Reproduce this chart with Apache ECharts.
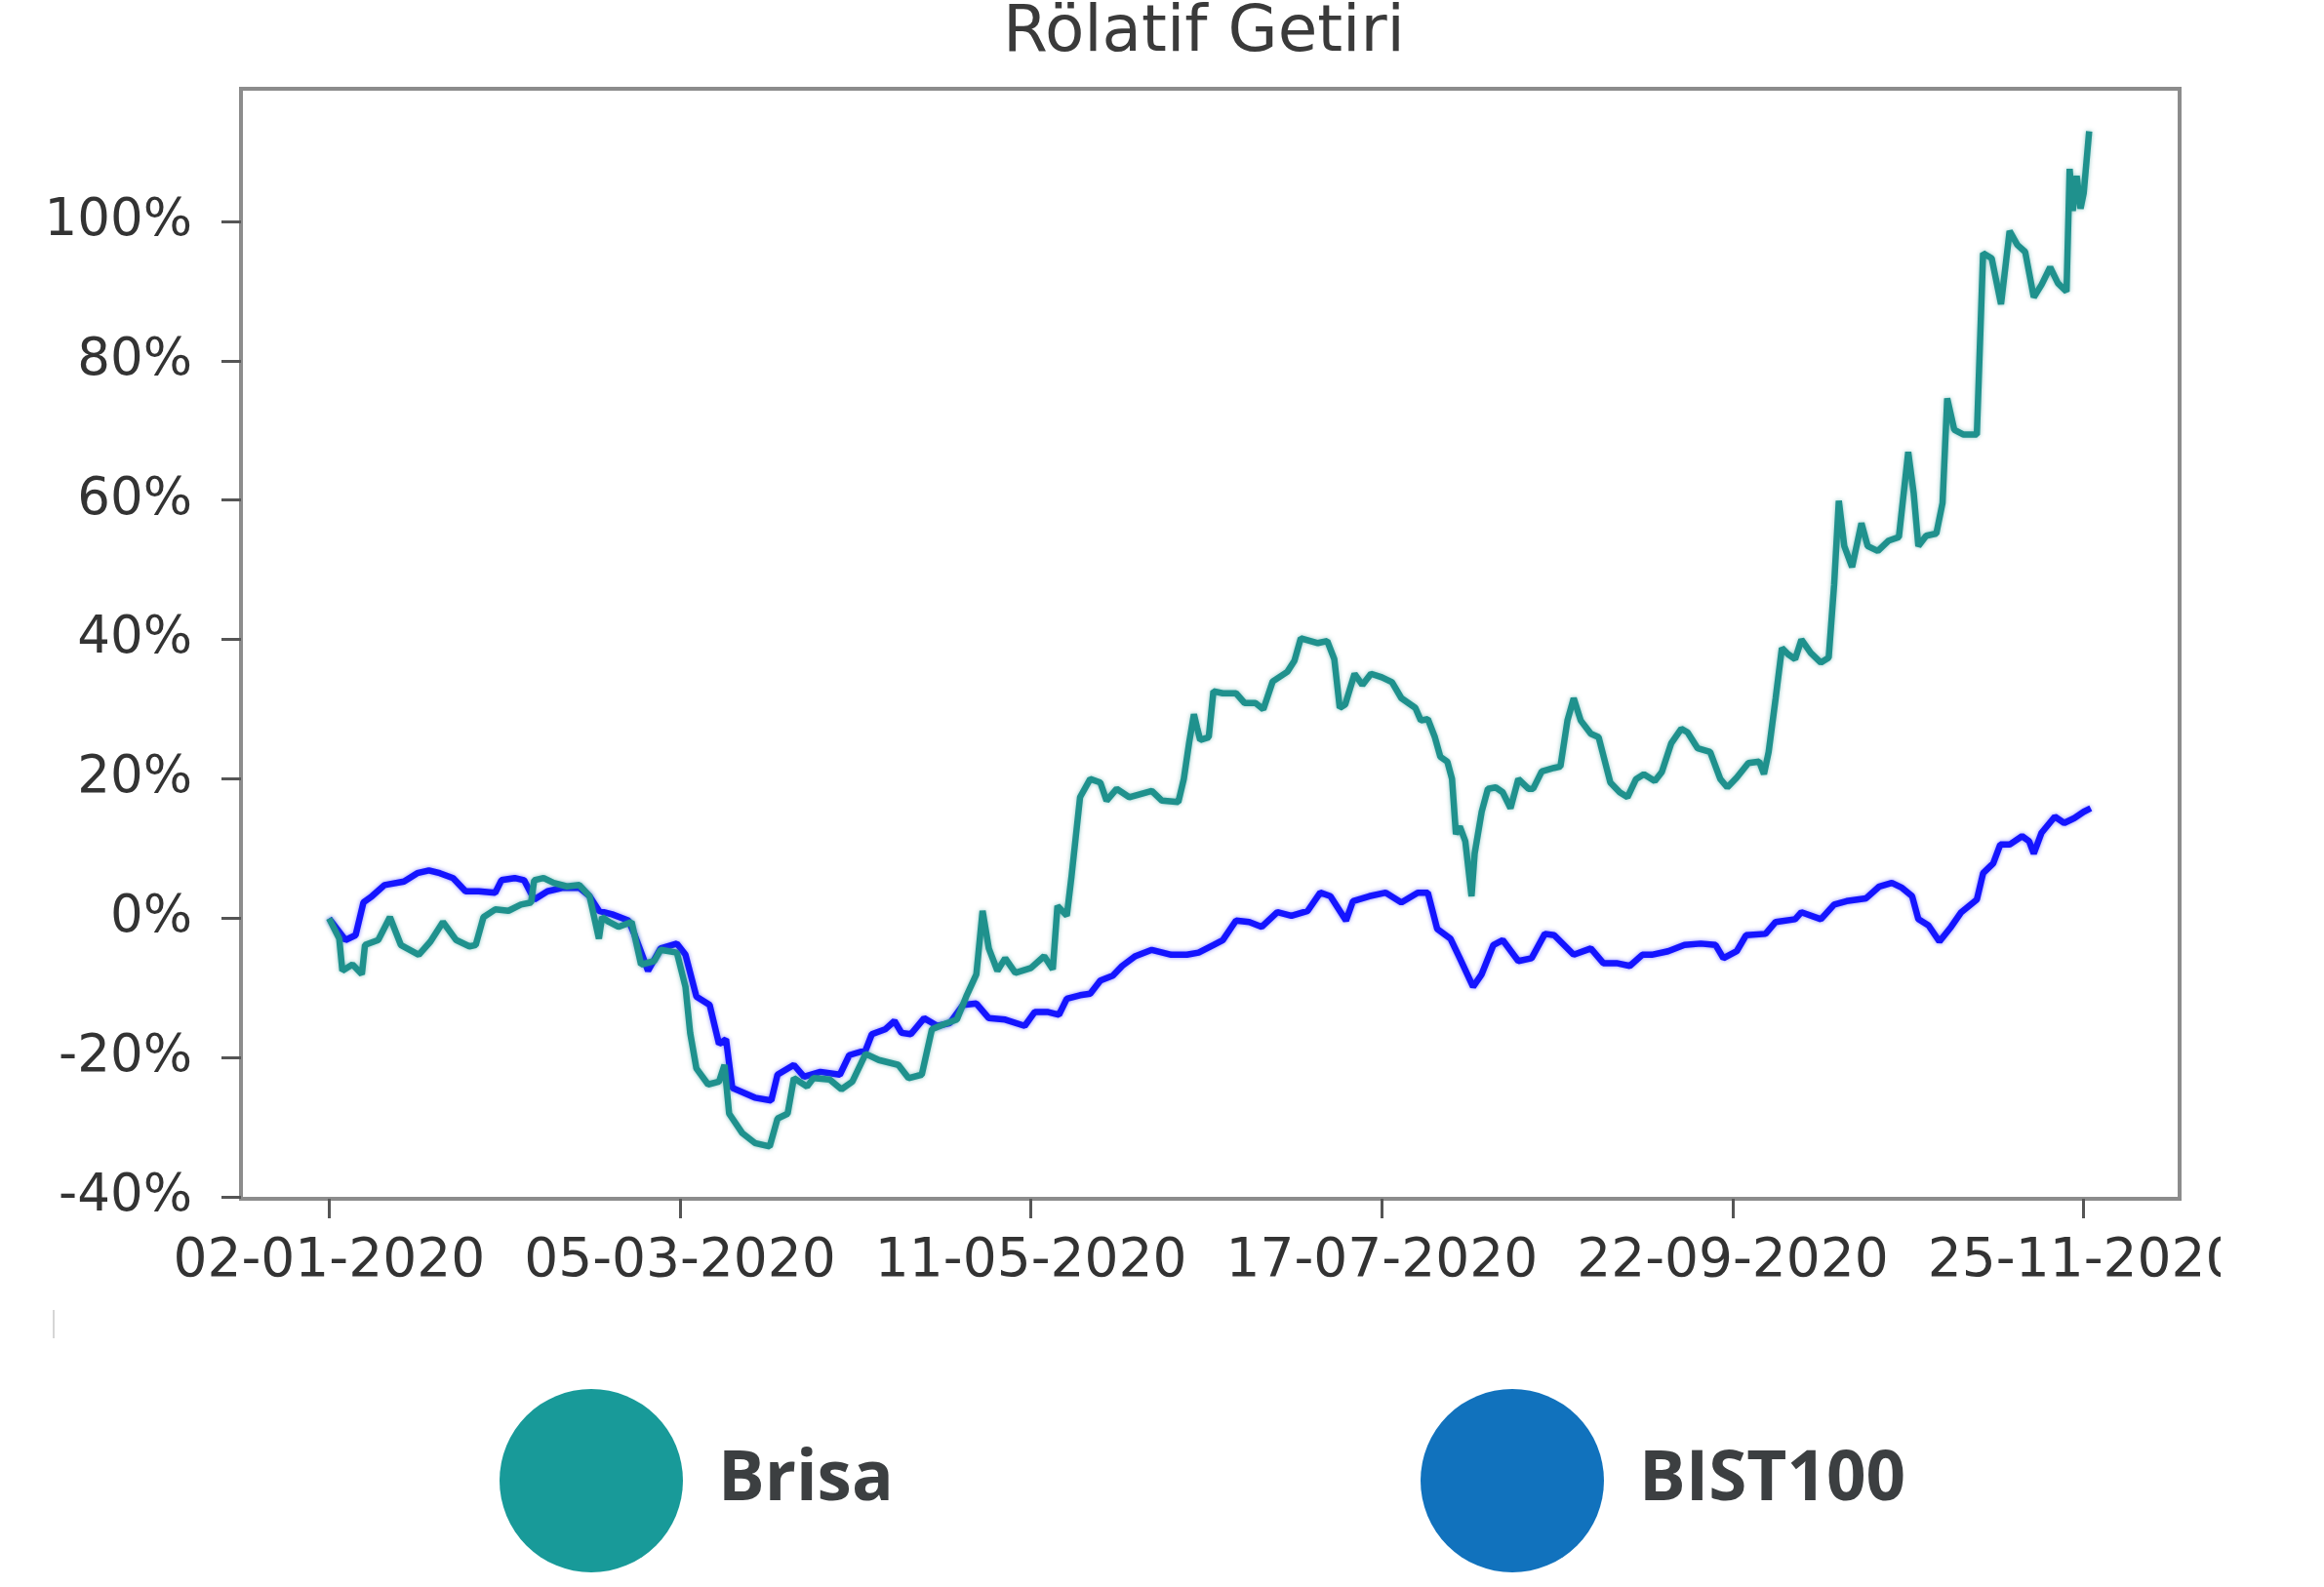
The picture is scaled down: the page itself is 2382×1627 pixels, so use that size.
<!DOCTYPE html>
<html>
<head>
<meta charset="utf-8">
<script src="https://cdn.jsdelivr.net/npm/echarts@6/dist/echarts.min.js"></script>
<style>
html,body{margin:0;padding:0;background:#fff;}
#chart{width:2382px;height:1627px;}
</style>
</head>
<body>
<div id="chart"></div>
<script>
// Trading-day index of each x tick and its label
const xTickIndex = [0, 45, 90, 135, 180, 225];
const xTickLabels = ['02-01-2020', '05-03-2020', '11-05-2020', '17-07-2020', '22-09-2020', '25-11-2020'];
const yTickValues = [-40, -20, 0, 20, 40, 60, 80, 100];

// Brisa relative return (%), [trading-day index, value]
const brisa = [
  [0,0],[1.3,-2.9],[1.7,-7.5],[3.0,-6.6],[4.2,-8.0],[4.6,-3.8],[6.3,-3.1],[7.8,0.2],[9.2,-3.8],[11.5,-5.2],
  [13.0,-3.3],[14.6,-0.5],[16.3,-3.1],[18.0,-4.0],[18.8,-3.8],[19.8,0.2],[21.3,1.3],[23.0,1.1],[24.6,2.0],[25.9,2.3],
  [26.3,5.5],[27.5,5.8],[28.8,5.1],[30.5,4.6],[32.1,4.8],[33.4,3.2],[34.6,-2.9],[35.0,0.2],[35.9,-0.5],[37.1,-1.2],
  [38.8,-0.5],[40.0,-6.6],[41.7,-6.1],[42.5,-4.5],[44.6,-4.9],[45.7,-9.8],[46.3,-16.4],[47.1,-21.5],[48.6,-23.8],[50.0,-23.4],
  [50.7,-21.0],[51.3,-28.0],[53.0,-30.8],[54.6,-32.2],[56.5,-32.7],[57.5,-28.7],[58.8,-28.0],[59.6,-22.9],[61.3,-24.1],[62.1,-22.9],
  [64.2,-23.1],[65.7,-24.5],[67.1,-23.4],[68.8,-19.4],[70.5,-20.3],[73.0,-21.0],[74.3,-22.9],[76.0,-22.4],[77.3,-15.9],[78.8,-15.2],
  [80.5,-14.5],[81.7,-11.2],[83.0,-8.0],[83.8,1.1],[84.6,-4.3],[85.7,-7.5],[86.7,-5.7],[88.0,-7.8],[90.0,-7.1],[91.7,-5.4],
  [92.8,-7.3],[93.4,1.8],[94.6,0.4],[95.2,6.0],[96.3,17.4],[97.6,20.0],[98.9,19.5],[99.7,16.9],[101.0,18.6],[102.6,17.4],
  [105.5,18.3],[106.8,16.9],[108.9,16.7],[109.6,20.0],[110.3,25.3],[110.9,29.3],[111.3,27.4],[111.7,25.6],[112.8,26.0],[113.4,32.6],
  [114.6,32.3],[116.3,32.3],[117.4,30.9],[118.8,30.9],[119.8,30.0],[121.0,34.0],[122.9,35.4],[123.8,37.0],[124.6,40.2],[126.8,39.5],
  [128.0,39.8],[128.9,37.2],[129.6,30.2],[130.3,30.7],[131.5,35.1],[132.5,33.5],[133.6,35.1],[135.0,34.6],[136.3,33.9],[137.5,31.6],
  [139.3,30.2],[140.0,28.4],[140.9,28.6],[141.8,26.0],[142.5,23.2],[143.4,22.5],[144.0,20.0],[144.5,12.1],[145.0,13.2],[145.7,11.1],
  [146.5,3.2],[146.9,9.3],[147.8,15.3],[148.6,18.6],[149.6,18.8],[150.5,18.1],[151.5,15.8],[152.5,20.0],[153.8,18.6],[154.4,18.6],
  [155.5,21.1],[157.1,21.6],[157.9,21.8],[158.8,28.4],[159.6,31.6],[160.5,28.4],[161.8,26.5],[162.8,26.0],[164.3,19.5],[165.5,18.1],
  [166.5,17.4],[167.6,20.0],[168.6,20.7],[170.0,19.7],[170.9,21.0],[172.1,25.1],[173.4,27.2],[174.2,26.7],[175.5,24.4],[177.1,23.9],
  [178.4,20.0],[179.3,18.8],[180.5,20.2],[182.0,22.3],[183.4,22.5],[184.0,20.7],[184.6,23.9],[185.5,31.6],[186.3,38.8],[187.1,37.9],
  [188.0,37.2],[188.8,40.0],[190.0,38.1],[191.3,36.7],[192.3,37.4],[193.0,47.9],[193.6,59.9],[194.3,53.4],[195.3,50.4],[196.5,56.7],
  [197.3,53.4],[198.6,52.7],[200.0,54.2],[201.3,54.7],[202.5,66.9],[203.2,61.0],[203.8,53.4],[204.8,54.9],[206.1,55.2],[206.9,59.6],
  [207.5,74.6],[208.4,70.1],[209.6,69.4],[211.3,69.4],[212.1,95.4],[213.2,94.7],[214.4,88.1],[215.5,98.6],[216.5,96.6],[217.5,95.6],
  [218.6,89.1],[219.6,90.9],[220.7,93.4],[221.7,91.1],[222.8,89.9],[223.2,107.5],[223.6,101.5],[224.1,106.5],[224.6,101.8],[225.0,104.0],
  [225.7,112.9]
];

// BIST100 relative return (%), [trading-day index, value]
const bist100 = [
  [0,0],[2.1,-3.1],[3.4,-2.4],[4.4,2.3],[5.5,3.2],[7.1,4.8],[9.6,5.3],[11.3,6.5],[12.8,6.9],[14.2,6.5],
  [15.9,5.8],[17.5,3.9],[19.2,3.9],[21.3,3.7],[22.1,5.5],[23.8,5.8],[25.0,5.5],[26.3,2.7],[28.0,3.9],[30.0,4.4],
  [32.1,4.4],[33.4,3.2],[34.6,1.1],[36.3,0.6],[38.4,-0.3],[39.2,-2.4],[40.9,-7.5],[42.5,-4.3],[44.6,-3.6],[45.7,-5.2],
  [47.1,-11.2],[48.8,-12.4],[50.0,-18.0],[50.9,-17.3],[51.7,-24.3],[54.6,-25.7],[56.7,-26.1],[57.5,-22.4],[59.6,-21.0],[60.9,-22.7],
  [63.0,-22.0],[65.5,-22.4],[66.7,-19.6],[68.8,-18.9],[69.6,-16.6],[71.3,-15.9],[72.5,-14.7],[73.4,-16.4],[74.6,-16.6],[76.3,-14.3],
  [78.0,-15.4],[79.6,-15.0],[81.3,-12.4],[83.0,-12.2],[84.6,-14.3],[86.7,-14.5],[89.2,-15.4],[90.5,-13.4],[92.1,-13.4],[93.6,-13.8],
  [94.6,-11.5],[96.3,-11.0],[97.6,-10.8],[98.9,-8.9],[100.5,-8.2],[101.7,-6.8],[103.4,-5.4],[105.5,-4.5],[108.0,-5.2],[110.0,-5.2],
  [111.5,-4.9],[113.4,-3.8],[114.6,-3.1],[116.3,-0.3],[118.0,-0.5],[119.6,-1.2],[121.6,0.9],[123.4,0.4],[125.5,1.1],[127.1,3.7],
  [128.4,3.2],[130.4,-0.3],[131.3,2.5],[133.4,3.2],[135.5,3.7],[137.5,2.3],[139.6,3.7],[140.9,3.7],[142.1,-1.5],[143.8,-2.9],
  [145.0,-5.7],[146.7,-9.8],[147.8,-8.0],[149.3,-3.8],[150.5,-3.1],[152.5,-6.1],[154.2,-5.7],[155.9,-2.2],[157.1,-2.4],[159.6,-5.2],
  [161.8,-4.3],[163.4,-6.4],[165.1,-6.4],[166.8,-6.8],[168.4,-5.2],[169.6,-5.2],[171.7,-4.7],[173.8,-3.8],[175.9,-3.6],[177.8,-3.8],
  [178.8,-5.7],[180.5,-4.7],[181.7,-2.4],[184.2,-2.2],[185.5,-0.5],[188.0,-0.1],[188.8,0.9],[191.3,-0.1],[193.0,2.0],[194.6,2.5],
  [197.1,2.9],[198.8,4.6],[200.4,5.1],[201.7,4.4],[203.0,3.2],[203.8,-0.1],[205.1,-1.0],[206.5,-3.3],[208.0,-1.2],[209.3,0.9],
  [211.3,2.7],[212.1,6.5],[213.4,7.9],[214.3,10.6],[215.5,10.6],[217.1,11.8],[218.0,11.1],[218.6,9.3],[219.6,12.3],[221.3,14.6],
  [222.5,13.7],[223.8,14.4],[225.0,15.3],[225.9,15.8]
];

const seriesNames = ['Brisa', 'BIST100'];
const titleText = 'Rölatif Getiri';

const chart = echarts.init(document.getElementById('chart'), null, {renderer: 'canvas'});

const legendText = {fontFamily: 'Open Sans', fontWeight: 'bold', fontSize: 71, color: '#3c3f41', padding: [0, 0, 0, 31]};

chart.setOption({
  animation: false,
  backgroundColor: '#ffffff',
  title: {
    text: titleText,
    left: 1028,
    top: 2,
    padding: 0,
    textStyle: {fontFamily: 'DejaVu Sans', fontSize: 66, fontWeight: 'normal', color: '#3a3a3a'}
  },
  legend: [
    {
      data: [{name: seriesNames[0], itemStyle: {color: '#189a99'}}],
      left: 512, top: 1424, padding: 0, icon: 'circle',
      itemWidth: 188, itemHeight: 188, selectedMode: false,
      textStyle: legendText
    },
    {
      data: [{name: seriesNames[1], itemStyle: {color: '#1172bd'}}],
      left: 1456, top: 1424, padding: 0, icon: 'circle',
      itemWidth: 188, itemHeight: 188, selectedMode: false,
      textStyle: legendText
    }
  ],
  grid: {
    left: 247, right: 148, top: 91, bottom: 398,
    show: true, borderColor: '#8c8c8c', borderWidth: 4, backgroundColor: '#ffffff',
    containLabel: false
  },
  xAxis: {
    type: 'value',
    min: -11.3, max: 237.3,
    splitLine: {show: false},
    axisLine: {show: false, onZero: false},
    axisTick: {show: true, length: 20, lineStyle: {color: '#555555', width: 3}, customValues: xTickIndex},
    axisLabel: {
      margin: 37,
      fontFamily: 'DejaVu Sans', fontSize: 55, color: '#333333',
      customValues: xTickIndex,
      formatter: function (v) {
        const i = xTickIndex.indexOf(Math.round(v));
        return i >= 0 ? xTickLabels[i] : '';
      }
    }
  },
  yAxis: {
    type: 'value',
    min: -40.2, max: 119,
    splitLine: {show: false},
    axisLine: {show: false, onZero: false},
    axisTick: {show: true, length: 20, lineStyle: {color: '#555555', width: 3}, customValues: yTickValues},
    axisLabel: {
      margin: 50,
      fontFamily: 'DejaVu Sans', fontSize: 53, color: '#333333',
      customValues: yTickValues,
      formatter: function (v) { return Math.round(v) + '%'; }
    }
  },
  series: [
    {
      name: seriesNames[1], type: 'line', data: bist100, showSymbol: false, z: 2,
      itemStyle: {color: '#1414ff'},
      lineStyle: {color: '#1414ff', width: 6.5, shadowBlur: 4, shadowColor: 'rgba(20,20,255,0.5)'}
    },
    {
      name: seriesNames[0], type: 'line', data: brisa, showSymbol: false, z: 3,
      itemStyle: {color: '#1f918d'},
      lineStyle: {color: '#1f918d', width: 6.5, shadowBlur: 4, shadowColor: 'rgba(31,145,141,0.5)'}
    }
  ],
  graphic: [
    {type: 'rect', z: 100, shape: {x: 2276, y: 1240, width: 106, height: 100}, style: {fill: '#ffffff'}},
    {type: 'line', z: 100, shape: {x1: 55, y1: 1343, x2: 55, y2: 1372}, style: {stroke: '#c8c8c8', lineWidth: 1.5}}
  ]
});
</script>
</body>
</html>
